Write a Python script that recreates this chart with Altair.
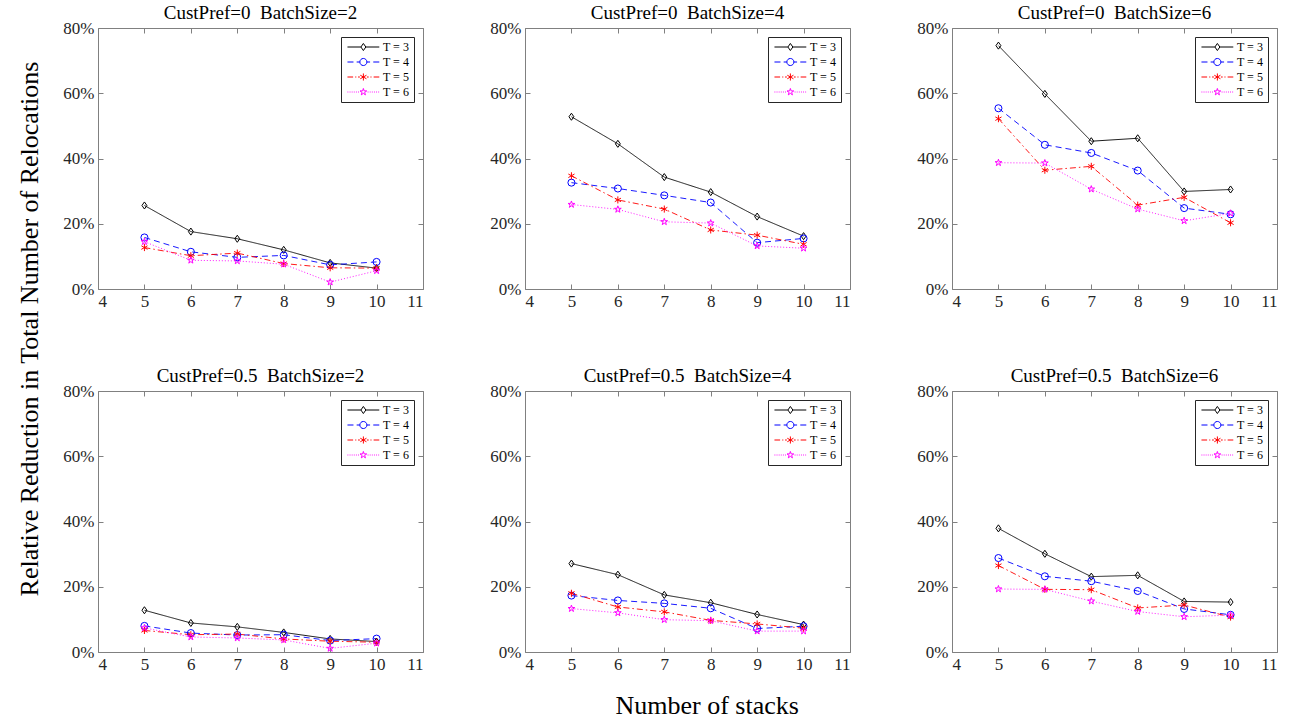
import altair as alt
import pandas as pd

# ---------------- data (percent) ----------------
stacks = [5, 6, 7, 8, 9, 10]
series = ["T = 3", "T = 4", "T = 5", "T = 6"]
cust_prefs = ["0", "0.5"]
batch_sizes = [2, 4, 6]
x_ticks = [4, 5, 6, 7, 8, 9, 10, 11]
y_ticks = [0, 0.2, 0.4, 0.6, 0.8]

# CustPref = 0
c0_b2_t3 = [25.6, 17.6, 15.4, 12.0, 8.0, 6.4]
c0_b2_t4 = [15.8, 11.4, 9.7, 10.3, 7.4, 8.3]
c0_b2_t5 = [12.7, 10.2, 11.0, 7.8, 6.5, 6.4]
c0_b2_t6 = [14.5, 8.8, 8.6, 7.6, 2.1, 5.6]

c0_b4_t3 = [52.8, 44.5, 34.3, 29.7, 22.2, 16.2]
c0_b4_t4 = [32.6, 30.8, 28.7, 26.5, 14.2, 15.5]
c0_b4_t5 = [34.7, 27.3, 24.5, 18.1, 16.5, 13.7]
c0_b4_t6 = [25.9, 24.4, 20.6, 20.2, 13.2, 12.5]

c0_b6_t3 = [74.6, 59.8, 45.3, 46.2, 29.9, 30.5]
c0_b6_t4 = [55.4, 44.2, 41.7, 36.3, 24.8, 22.9]
c0_b6_t5 = [52.2, 36.4, 37.6, 25.7, 28.1, 20.3]
c0_b6_t6 = [38.7, 38.6, 30.6, 24.5, 20.9, 23.2]

# CustPref = 0.5
c5_b2_t3 = [12.8, 8.9, 7.7, 6.0, 4.0, 3.2]
c5_b2_t4 = [8.0, 5.8, 5.2, 5.3, 3.5, 4.1]
c5_b2_t5 = [6.6, 5.3, 5.5, 4.0, 3.3, 3.0]
c5_b2_t6 = [7.4, 4.6, 4.3, 3.7, 1.1, 2.7]

c5_b4_t3 = [27.1, 23.7, 17.5, 15.1, 11.5, 8.4]
c5_b4_t4 = [17.3, 15.8, 14.9, 13.4, 7.2, 7.9]
c5_b4_t5 = [18.0, 13.8, 12.3, 9.7, 8.6, 7.3]
c5_b4_t6 = [13.3, 12.0, 9.9, 9.6, 6.4, 6.4]

c5_b6_t3 = [37.9, 30.1, 23.1, 23.5, 15.5, 15.3]
c5_b6_t4 = [28.8, 23.2, 21.7, 18.7, 13.2, 11.4]
c5_b6_t5 = [26.5, 19.2, 19.1, 13.5, 14.4, 10.7]
c5_b6_t6 = [19.3, 19.2, 15.6, 12.4, 10.8, 11.3]

panels = {
    ("0", 2): [c0_b2_t3, c0_b2_t4, c0_b2_t5, c0_b2_t6],
    ("0", 4): [c0_b4_t3, c0_b4_t4, c0_b4_t5, c0_b4_t6],
    ("0", 6): [c0_b6_t3, c0_b6_t4, c0_b6_t5, c0_b6_t6],
    ("0.5", 2): [c5_b2_t3, c5_b2_t4, c5_b2_t5, c5_b2_t6],
    ("0.5", 4): [c5_b4_t3, c5_b4_t4, c5_b4_t5, c5_b4_t6],
    ("0.5", 6): [c5_b6_t3, c5_b6_t4, c5_b6_t5, c5_b6_t6],
}

# ---------------- styles ----------------
FONT = "Liberation Serif"
AXIS_GRAY = "#808080"
TICK = 5
colors = ["#000000", "#0000FF", "#FF0000", "#FF00FF"]
dashes = [[1, 0], [6, 4], [6, 3, 1.5, 3], [1, 2]]
DIAMOND = "M0,-1L0.7,0L0,1L-0.7,0Z"
ASTER = "M0,-1V1M-0.87,-0.5L0.87,0.5M-0.87,0.5L0.87,-0.5"
STAR = ("M0,-1L0.225,-0.309L0.951,-0.309L0.363,0.118L0.588,0.809L0,0.382"
        "L-0.588,0.809L-0.363,0.118L-0.951,-0.309L-0.225,-0.309Z")
shapes = [DIAMOND, "circle", ASTER, STAR]

# legend symbols: line + marker
LEG = [
    "M-1,0H2.8 M4.2,0H8 M3.5,-1L4.2,0L3.5,1L2.8,0Z",
    "M-1,0H0.7 M1.6,0H2.5 M4.5,0H5.4 M6.3,0H8 M4.5,0A1,1 0 1,1 2.5,0A1,1 0 1,1 4.5,0Z",
    "M-1,0H0.6 M1.2,0H1.5 M2.0,0H2.5 M4.5,0H5.0 M5.5,0H5.8 M6.4,0H8 "
    "M3.5,-1V1 M2.63,-0.5L4.37,0.5 M2.63,0.5L4.37,-0.5",
    "M-1,0H-0.75 M-0.4,0H-0.15 M0.2,0H0.45 M0.8,0H1.05 M1.4,0H1.65 M2.0,0H2.25 "
    "M4.7,0H4.95 M5.3,0H5.55 M5.9,0H6.15 M6.5,0H6.75 M7.1,0H7.35 M7.7,0H7.95 "
    "M3.5,-1L3.725,-0.309L4.451,-0.309L3.863,0.118L4.088,0.809L3.5,0.382"
    "L2.912,0.809L3.137,0.118L2.549,-0.309L3.275,-0.309Z",
]

legend = alt.Legend(
    title=None,
    orient="top-right",
    offset=9,
    padding=4,
    strokeColor="#262626",
    fillColor="white",
    labelFont=FONT,
    labelFontSize=12,
    labelColor="#000000",
    labelOffset=26,
    rowPadding=3,
    symbolSize=50,
    symbolStrokeWidth=1,
    symbolOpacity=1,
    symbolFillColor="transparent",
)

PW, PH = 325, 261


def make_panel(cp, bs):
    rows = []
    for name, vals in zip(series, panels[(cp, bs)]):
        for s, v in zip(stacks, vals):
            rows.append({"stacks": s, "value": v / 100.0, "T": name})
    df = pd.DataFrame(rows)
    base = alt.Chart(df)
    xs = alt.Scale(domain=[4, 11], nice=False)
    ys = alt.Scale(domain=[0, 0.8], nice=False)
    # main axes (bottom / left) with ticks pointing into the plot
    x = alt.X("stacks:Q", scale=xs,
              axis=alt.Axis(values=x_ticks, format="d", title=None,
                            offset=-TICK, tickSize=TICK, ticks=True))
    y = alt.Y("value:Q", scale=ys,
              axis=alt.Axis(values=y_ticks, format=".0%", title=None,
                            offset=-TICK, tickSize=TICK, ticks=True))
    layers = []
    for name, col, dash in zip(series, colors, dashes):
        layers.append(
            base.transform_filter(alt.datum.T == name)
            .mark_line(strokeWidth=0.9, color=col, strokeDash=dash)
            .encode(x=x, y=y)
        )
    for name, col, shp in zip(series, colors, shapes):
        layers.append(
            base.transform_filter(alt.datum.T == name)
            .mark_point(filled=False, size=50, strokeWidth=1, opacity=1, shape=shp, color=col)
            .encode(x=x, y=y)
        )
    main = alt.layer(*layers)
    # legend-only layer (zero-size points): line+marker legend symbols, top/right ticks
    aux = base.mark_point(filled=False, size=0, strokeWidth=1).encode(
        x=alt.X("stacks:Q", scale=xs,
                axis=alt.Axis(values=x_ticks, orient="top", labels=False, title=None,
                              offset=-TICK, tickSize=TICK, ticks=True)),
        y=alt.Y("value:Q", scale=ys,
                axis=alt.Axis(values=y_ticks, orient="right", labels=False, title=None,
                              offset=-TICK, tickSize=TICK, ticks=True)),
        color=alt.Color("T:N", scale=alt.Scale(domain=series, range=colors), legend=legend),
        shape=alt.Shape("T:N", scale=alt.Scale(domain=series, range=LEG), legend=legend),
    )
    title = "CustPref=%s\u00a0 BatchSize=%d" % (cp, bs)
    return alt.layer(main, aux).resolve_scale(x="independent", y="independent").properties(
        width=PW, height=PH,
        title=alt.TitleParams(title, font=FONT, fontSize=19, fontWeight="normal",
                              color="#000000", offset=-4),
    )


rows_charts = []
for cp in cust_prefs:
    row = alt.hconcat(*[make_panel(cp, bs) for bs in batch_sizes], spacing=65)
    row = row.resolve_scale(color="independent", shape="independent")
    row = row.resolve_legend(color="independent", shape="independent")
    rows_charts.append(row)

grid = alt.vconcat(*rows_charts, spacing=56).resolve_scale(
    color="independent", shape="independent"
).resolve_legend(color="independent", shape="independent").properties(
    title=alt.TitleParams("Number of stacks", orient="bottom", anchor="middle",
                          font=FONT, fontSize=26, fontWeight="normal",
                          color="#000000", offset=20, dx=37)
)

chart = alt.hconcat(grid).properties(
    title=alt.TitleParams("Relative Reduction in Total Number of Relocations",
                          orient="left", anchor="middle", font=FONT, fontSize=26,
                          fontWeight="normal", color="#000000", offset=19, dx=32),
    padding={"left": 17, "top": 3, "right": 5, "bottom": 0},
).configure_view(
    stroke=AXIS_GRAY, strokeWidth=1
).configure_axis(
    labelFont=FONT, labelFontSize=17, labelColor="#262626",
    grid=False, domain=False, labelPadding=4,
    tickColor=AXIS_GRAY, tickWidth=1,
)

chart.save("out.html", embed_options={"renderer": "svg", "actions": False})
